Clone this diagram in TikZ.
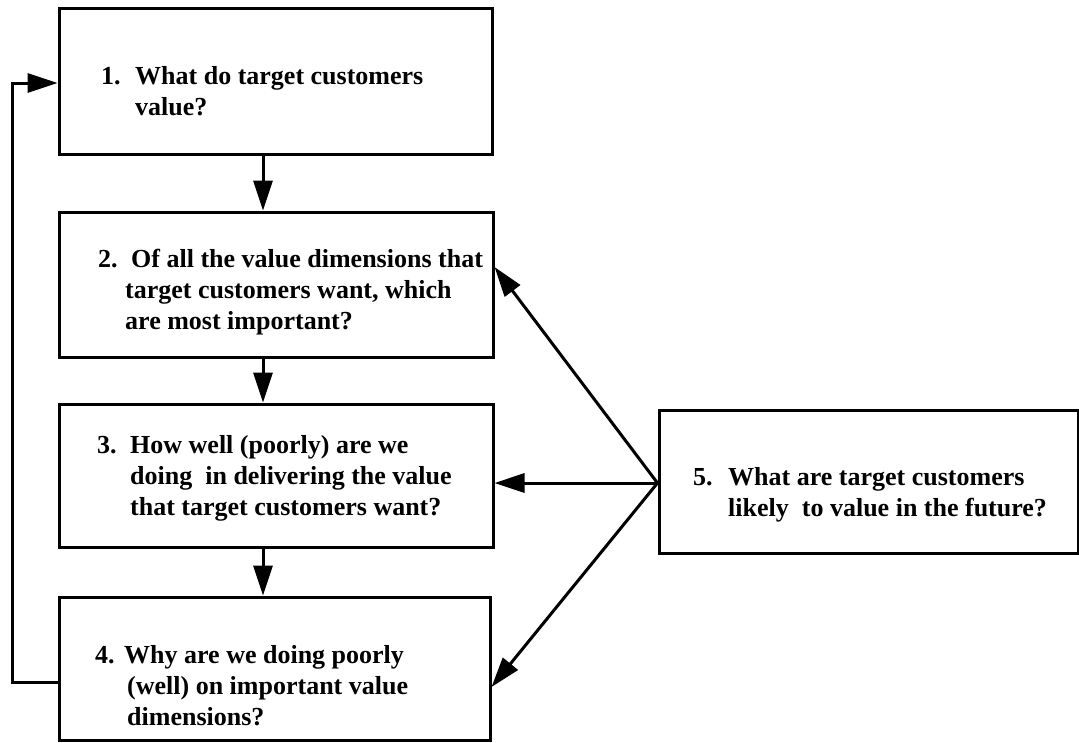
\documentclass[tikz,border=0pt]{standalone}
\usepackage{fontspec}
\newfontfamily\figfont{Liberation Serif}
\usetikzlibrary{arrows.meta}
\tikzset{
  box/.style={draw=black, line width=3pt, inner sep=0pt, rectangle},
  arr/.style={draw=black, line width=3pt, -{Triangle[length=30pt,width=19pt]}},
  txt/.style={anchor=base west, inner sep=0pt, font=\figfont\bfseries\fontsize{26}{31}\selectfont},
}
\newcommand{\lns}[1]{\begin{tabular}[t]{@{}l@{}}#1\end{tabular}}
\begin{document}
\begin{tikzpicture}[x=1pt,y=-1pt]
\useasboundingbox[fill=white] (0,0) rectangle (1079,742);
% boxes
\node[box, minimum width=433pt, minimum height=146pt] (b1) at (275.5,81) {};
\node[box, minimum width=434pt, minimum height=145pt] (b2) at (276,284.5) {};
\node[box, minimum width=434pt, minimum height=143pt] (b3) at (276,475.5) {};
\node[box, minimum width=431pt, minimum height=143pt] (b4) at (274.5,668.5) {};
\node[box, minimum width=419pt, minimum height=143pt] (b5) at (868.5,481.5) {};
% texts
\node[txt] (n1) at (101,84) {1.};
\node[txt] (t1) at (135,84) {\lns{What do target customers\\ value?}};
\node[txt] (n2) at (98,267) {2.};
\node[txt] (t2) at (125,267) {\lns{\hspace*{6pt}Of all the value dimensions that\\ target customers want, which\\ are most important?}};
\node[txt] (n3) at (97,453) {3.};
\node[txt] (t3) at (130,453) {\lns{How well (poorly) are we\\ doing\ \ in delivering the value\\ that target customers want?}};
\node[txt] (n4) at (95,663) {4.};
\node[txt] (t4) at (127,663) {\lns{\hspace*{-3pt}Why are we doing poorly\\ (well) on important value\\ dimensions?}};
\node[txt] (n5) at (693,485) {5.};
\node[txt] (t5) at (728,485) {\lns{What are target customers\\ likely\ \ to value in the future?}};
% helper coordinates
\coordinate (cx) at (263,0);
\coordinate (loopTop) at (12,83);
\coordinate (loopBot) at (12,682);
\coordinate (y2) at (0,267);
\coordinate (y3) at (0,483);
\coordinate (y4) at (0,687);
% vertical arrows
\draw[arr] (b1.south -| cx) -- (b2.north -| cx);
\draw[arr] (b2.south -| cx) -- (b3.north -| cx);
\draw[arr] (b3.south -| cx) -- (b4.north -| cx);
% feedback loop
\draw[arr] (b4.west |- loopBot) -- (loopBot) -- (loopTop) -- (b1.west |- loopTop);
% arrows from box 5
\draw[arr] (b5.west |- y3) -- (b2.east |- y2);
\draw[arr] (b5.west |- y3) -- (b3.east |- y3);
\draw[arr] (b5.west |- y3) -- (b4.east |- y4);
\end{tikzpicture}
\end{document}
